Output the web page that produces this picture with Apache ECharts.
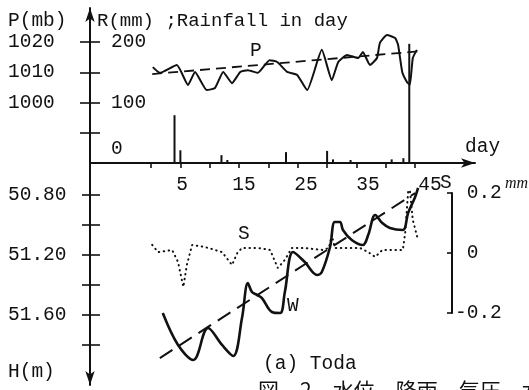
<!DOCTYPE html>
<html>
<head>
<meta charset="utf-8">
<script src="https://cdn.jsdelivr.net/npm/echarts@6/dist/echarts.min.js"></script>
<style>
  html, body { margin: 0; background: #fff; }
  #chart { width: 529px; height: 390px; }
</style>
</head>
<body>
<div id="chart"></div>
<script>
// tick and label values
const xTickDays = [0, 5, 10, 15, 20, 25, 30, 35, 40, 45];
const xLabelDays = [5, 15, 25, 35, 45];
const pTicks = [990, 1000, 1010, 1020];
const pLabels = [1000, 1010, 1020];
const rTicks = [50, 100, 150, 200];
const rLabels = [0, 100, 200];
const hTicks = [50.8, 51.0, 51.2, 51.4, 51.6, 51.8];
const hLabels = [50.8, 51.2, 51.6];
const sTicks = [-0.2, 0, 0.2];

// daily rainfall R (mm)
const rainDays = [4, 5, 12, 13, 23, 30, 31, 34, 41, 43, 44];
const rainMm = [79, 21, 13, 5, 18, 20, 6, 5, 6, 8, 197];

// air pressure P (mb)
const pDays = [0.3, 1.5, 4.4, 6.3, 7.5, 9.5, 10.9, 12.3, 13.8, 15.2, 16.5, 18.2, 20.2, 21.5, 23.2, 24.9, 26.6,
  29.1, 30.8, 31.9, 33.4, 35.3, 36.1, 37.3, 38.5, 39.0, 40.2, 41.6, 42.1, 42.8, 43.6, 44.1, 44.6, 45.3];
const pValues = [1011.7, 1009.8, 1012.4, 1005.8, 1010.1, 1004.1, 1004.8, 1010.1, 1006.4, 1010.1, 1010.7, 1009.8,
  1014.0, 1013.4, 1010.1, 1009.1, 1004.1, 1017.4, 1007.4, 1013.4, 1015.7, 1014.7, 1016.7, 1012.4, 1014.7,
  1019.7, 1022.3, 1021.3, 1019.0, 1010.1, 1006.8, 1005.8, 1014.7, 1017.4];
const pTrendDays = [0.2, 45.5];
const pTrendValues = [1009.4, 1016.9];

// water level W, H (m)
const wDays = [2.0, 4.6, 7.2, 9.7, 12.1, 14.0, 15.5, 16.5, 17.2, 18.1, 18.9, 20.6, 22.0, 22.8, 24.2, 26.2, 28.3,
  29.1, 30.5, 31.3, 32.2, 32.7, 34.2, 36.1, 37.0, 38.2, 39.4, 40.7, 42.9, 43.8, 45.0, 45.5];
const wValues = [51.587, 51.800, 51.900, 51.687, 51.800, 51.873, 51.620, 51.387, 51.447, 51.467, 51.487, 51.580,
  51.587, 51.447, 51.180, 51.247, 51.333, 51.313, 51.147, 50.980, 50.980, 51.033, 51.100, 51.133, 51.067,
  50.933, 50.987, 51.020, 51.033, 50.920, 50.813, 50.753];
const wTrendDays = [1.5, 45.0];
const wTrendValues = [51.887, 50.787];

// S (mm)
const sDays = [0.2, 1.2, 3.6, 4.6, 5.5, 6.1, 7.0, 9.2, 12.1, 13.8, 14.7, 15.5, 18.2, 20.3, 21.6, 22.8, 24.0, 25.9,
  29.3, 30.3, 30.8, 31.3, 35.6, 37.0, 38.2, 39.4, 42.9, 43.3, 43.8, 44.1, 44.6, 45.5];
const sValues = [0.027, 0.003, 0.010, -0.030, -0.113, -0.040, 0.027, 0.020, 0.003, -0.040, 0.000, 0.017, 0.017,
  0.010, -0.050, -0.023, 0.017, 0.017, 0.010, 0.017, 0.060, 0.017, 0.017, 0.003, -0.013, 0.010, 0.010, 0.067,
  0.203, 0.210, 0.110, 0.043];

const zip = (a, b) => a.map((v, i) => [v, b[i]]);

const ink = '#111';
const mono = 'Liberation Mono';
const fs = 19.5;
const axisLine = { onZero: false, lineStyle: { color: ink, width: 2 } };
const tickStyle = { color: ink, width: 1.6 };
const labelStyle = { color: ink, fontFamily: mono, fontSize: fs };

const chart = echarts.init(document.getElementById('chart'), null, { renderer: 'canvas' });

const text = (str, x, y, extra) => ({
  type: 'text', x, y, silent: true,
  style: Object.assign({ text: str, fill: ink, font: `${fs}px "${mono}"`, align: 'left', verticalAlign: 'middle' }, extra || {})
});

chart.setOption({
  animation: false,
  grid: [
    { left: 90, top: 8, width: 385, height: 155, containLabel: false, outerBoundsMode: 'none' },
    { left: 90, top: 163, width: 385, height: 222, containLabel: false, outerBoundsMode: 'none' },
    { left: 90, top: 193, width: 362, height: 120, containLabel: false, outerBoundsMode: 'none' }
  ],
  xAxis: [
    {
      gridIndex: 0, type: 'value', min: -10.4, max: 55.2, position: 'bottom',
      axisLine: Object.assign({ symbol: ['none', 'arrow'], symbolSize: [7, 14] }, axisLine),
      axisTick: { customValues: xTickDays, length: 5, lineStyle: tickStyle },
      axisLabel: { show: false },
      splitLine: { show: false }
    },
    {
      gridIndex: 0, type: 'value', min: -9.84, max: 52.26, position: 'bottom',
      axisLine: { show: false, onZero: false },
      axisTick: { show: false },
      axisLabel: Object.assign({ customValues: xLabelDays, margin: 12, formatter: v => String(v) }, labelStyle),
      splitLine: { show: false }
    },
    { gridIndex: 1, type: 'value', min: -10.4, max: 55.2, show: false, splitLine: { show: false } },
    { gridIndex: 2, type: 'value', min: -10.4, max: 51.28, show: false, splitLine: { show: false } }
  ],
  yAxis: [
    {
      gridIndex: 0, type: 'value', min: 980, max: 1031.24, position: 'left',
      axisLine: Object.assign({ show: true, symbol: ['none', 'arrow'], symbolSize: [7, 14] }, axisLine),
      axisTick: { customValues: pTicks, length: 10, lineStyle: tickStyle },
      axisLabel: Object.assign({ customValues: pLabels, align: 'left', margin: 82, formatter: v => String(v) }, labelStyle),
      splitLine: { show: false }
    },
    {
      gridIndex: 0, type: 'value', min: 0, max: 256.2, position: 'left',
      axisLine: { show: false, onZero: false },
      axisTick: { customValues: rTicks, inside: true, length: 10, lineStyle: tickStyle },
      axisLabel: Object.assign({
        customValues: rLabels, inside: true, margin: 21,
        formatter: v => v === 0 ? '{lo|0}' : String(v),
        rich: { lo: { fontFamily: mono, fontSize: fs, color: ink, padding: [0, 0, 28, 0] } }
      }, labelStyle),
      splitLine: { show: false }
    },
    {
      gridIndex: 1, type: 'value', inverse: true, min: 50.5867, max: 52.0667, position: 'left',
      axisLine: Object.assign({ show: true, symbol: ['arrow', 'none'], symbolSize: [7, 14] }, axisLine),
      axisTick: { customValues: hTicks, length: 8, lineStyle: tickStyle },
      axisLabel: Object.assign({ customValues: hLabels, align: 'left', margin: 82, formatter: v => v.toFixed(2) }, labelStyle),
      splitLine: { show: false }
    },
    {
      gridIndex: 1, type: 'value', inverse: true, min: 50.5867, max: 52.0667, position: 'left',
      axisLine: { show: false, onZero: false },
      axisTick: { customValues: hTicks, inside: true, length: 10, lineStyle: tickStyle },
      axisLabel: { show: false },
      splitLine: { show: false }
    },
    {
      gridIndex: 2, type: 'value', min: -0.2, max: 0.2, position: 'right',
      axisLine: Object.assign({ show: true }, axisLine),
      axisTick: { customValues: sTicks, inside: true, length: 5, lineStyle: tickStyle },
      axisLabel: Object.assign({
        customValues: sTicks, margin: 3,
        formatter: v => v === 0 ? ' 0' : (v < 0 ? v.toFixed(1) : ' ' + v.toFixed(1))
      }, labelStyle),
      splitLine: { show: false }
    }
  ],
  series: [
    {
      name: 'R', type: 'bar', xAxisIndex: 0, yAxisIndex: 1, barWidth: 2,
      data: zip(rainDays, rainMm), itemStyle: { color: ink }, silent: true
    },
    {
      name: 'P', type: 'line', xAxisIndex: 0, yAxisIndex: 0, data: zip(pDays, pValues),
      symbol: 'none', smooth: 0.15, clip: false, lineStyle: { color: ink, width: 2 }, silent: true
    },
    {
      name: 'P trend', type: 'line', xAxisIndex: 0, yAxisIndex: 0, data: zip(pTrendDays, pTrendValues),
      symbol: 'none', lineStyle: { color: ink, width: 1.8, type: [10, 6] }, silent: true
    },
    {
      name: 'W', type: 'line', xAxisIndex: 2, yAxisIndex: 2, data: zip(wDays, wValues),
      symbol: 'none', smooth: 0.35, clip: false, lineStyle: { color: ink, width: 2.6 }, silent: true
    },
    {
      name: 'W trend', type: 'line', xAxisIndex: 2, yAxisIndex: 2, data: zip(wTrendDays, wTrendValues),
      symbol: 'none', clip: false, lineStyle: { color: ink, width: 2, type: [15, 8] }, silent: true
    },
    {
      name: 'S', type: 'line', xAxisIndex: 3, yAxisIndex: 4, data: zip(sDays, sValues),
      symbol: 'none', clip: false, lineStyle: { color: ink, width: 2, type: [0.5, 4.5], cap: 'round' }, silent: true
    }
  ],
  graphic: [
    text('P(mb)', 8, 21),
    text('R(mm) ;Rainfall in day', 97, 21, { font: `19px "${mono}"` }),
    text('day', 465, 147),
    text('P', 250, 51),
    text('S', 238, 234),
    text('W', 287, 306),
    text('S', 440, 183),
    text('mm', 505, 184, { font: `italic 16px "Liberation Serif"` }),
    text('H(m)', 8, 372),
    text('(a) Toda', 263, 364),
    text('図　2　水位、降雨、気圧、水温', 258, 390, { font: `21px "Noto Sans CJK JP"` })
  ]
});
</script>
</body>
</html>
